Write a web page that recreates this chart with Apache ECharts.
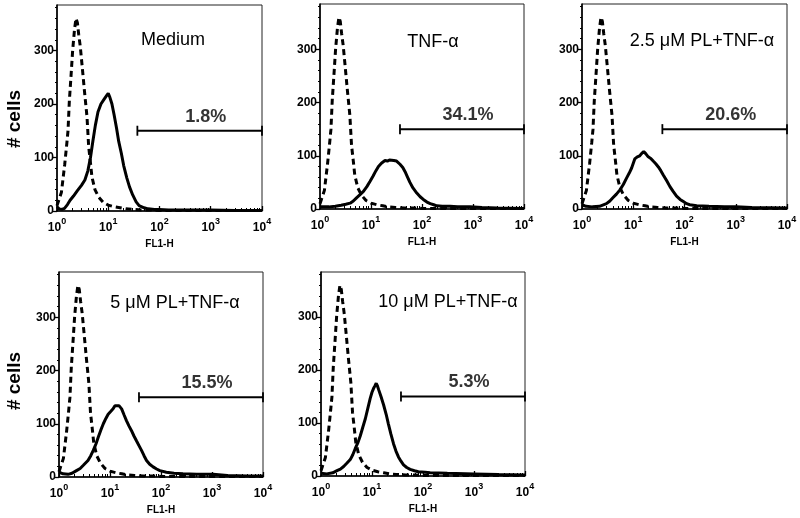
<!DOCTYPE html>
<html><head><meta charset="utf-8">
<script src="https://cdn.jsdelivr.net/npm/echarts@6/dist/echarts.min.js"></script>
<style>html,body{margin:0;padding:0;background:#fff}#c{width:800px;height:518px}</style>
</head><body><div id="c"></div>
<script>
// ---- data ----
const panelTitles = ['Medium', 'TNF-\u03b1', '2.5 \u03bcM PL+TNF-\u03b1', '5 \u03bcM PL+TNF-\u03b1', '10 \u03bcM PL+TNF-\u03b1'];
const gatePercents = ['1.8%', '34.1%', '20.6%', '15.5%', '5.3%'];
const gateRange = [37, 10000];
const gateLevel = 150;
const xTickValues = [1, 10, 100, 1000, 10000];
const xMinorTicks = [2,3,4,5,6,7,8,9,20,30,40,50,60,70,80,90,200,300,400,500,600,700,800,900,2000,3000,4000,5000,6000,7000,8000,9000];
const yTickValues = [0, 100, 200, 300];
const yMinorTicks = [20,40,60,80,120,140,160,180,220,240,260,280,320,340,360,380];
const yMax = 385;

// isotype control (dashed), same in every panel
const control = [[1.0,10],[1.1,22],[1.22,35],[1.41,86],[1.55,125],[1.64,150],[1.74,205],[1.9,260],[2.02,300],[2.2,340],
  [2.35,360],[2.5,352],[2.65,330],[2.85,307],[3.1,270],[3.45,222],[3.85,176],[4.15,120],[4.5,90],[4.8,64],
  [5.5,40],[6.5,26],[8,16],[10,11],[13,8],[17,6],[22,4],[30,3],[45,2],[70,2],[100,1],[200,1],[500,1],[1000,1],[3000,1],[10000,1]];

const medium = [[1.0,8],[1.1,4],[1.25,3],[1.4,5],[1.6,12],[1.8,20],[2.1,28],[2.5,38],[3.0,48],[3.5,58],[4.0,75],[4.5,100],
  [5.0,130],[5.6,160],[6.3,185],[7.2,200],[8.2,208],[9.2,215],[10,220],[10.8,212],[11.8,200],[13,180],[14.5,155],[16,130],
  [18,108],[20,85],[23,62],[26,45],[30,30],[35,17],[40,10],[50,6],[60,4],[80,3],[100,3],[150,2],[300,2],[1000,2],[3000,1],[10000,1]];

const tnf = [[1.0,4],[1.5,4],[2,5],[2.6,7],[3.2,9],[3.9,11],[4.5,15],[5.2,21],[6.1,27],[7.1,33],[8.3,42],[9.6,52],[11,62],
  [12.5,72],[14,80],[16,86],[18.8,91],[21,90],[23,92],[25,90],[28,91],[31.7,90],[34,88],[37,84],[42,78],[46.6,70],[52,60],
  [58,50],[66,40],[79,30],[92,23],[106,18],[125,13],[145,10],[170,8],[194,6],[250,5],[355,5],[500,4],[870,4],[1500,3],[3000,2],[10000,1]];

const pl25 = [[1.0,8],[1.2,5],[1.6,4],[2.2,5],[3.0,10],[3.5,15],[4.0,21],[4.7,28],[5.5,36],[6.4,46],[7.4,58],[8.4,68],[9.3,77],
  [10.7,94],[12,98],[13.4,100],[14.5,104],[16,108],[17.5,104],[19.6,98],[22,95],[24.5,90],[27.5,85],[30.9,79],[34.5,72],[38.5,64],
  [45,53],[52,42],[60,33],[70,24],[82,18],[95,14],[110,10],[127,8],[173,6],[300,5],[600,4],[1000,4],[2000,3],[10000,2]];

const pl5 = [[1.0,9],[1.2,6],[1.5,5],[1.8,7],[2.2,12],[2.6,16],[3.0,22],[3.7,31],[4.2,40],[4.7,50],[5.3,62],[5.9,75],[6.6,88],
  [7.4,100],[8.3,110],[9.2,118],[10.3,123],[11.5,128],[12.5,134],[13.5,137],[15,134],[16.9,128],[19,116],[21,106],[23.5,96],
  [26.4,87],[29.5,77],[33,68],[37,59],[41.5,50],[46.5,40],[52,31],[60,24],[70,19],[82,15],[95,12],[127,9],[180,7],[270,6],
  [500,5],[1050,5],[2000,3],[5000,2],[10000,2]];

const pl10 = [[1.0,5],[1.3,4],[1.7,6],[2.06,10],[2.4,13],[2.78,18],[3.2,24],[3.75,31],[4.2,40],[4.7,52],[5.3,63],[5.9,76],
  [6.6,92],[7.4,108],[8.3,128],[9.2,146],[10,158],[10.7,165],[11.4,170],[12.1,175],[12.8,170],[13.5,163],[15,150],[16.9,134],
  [19,116],[21,98],[23.5,79],[26.4,61],[29.5,47],[33,36],[37,28],[41.5,21],[48,16],[56,12.5],[68,10],[81,8],[110,7],[138,6],
  [300,5],[1000,4],[3000,3],[10000,2]];

const samples = [medium, tnf, pl25, pl5, pl10];

// ---- layout ----
const grids = [
  {left: 57, top: 5, width: 205, height: 206},
  {left: 320, top: 4, width: 204, height: 205},
  {left: 582, top: 4, width: 205, height: 205},
  {left: 59, top: 272, width: 204, height: 205},
  {left: 321, top: 272, width: 204, height: 204}
];
const titlePos = [[173, 40], [433, 42], [702, 41], [175, 303], [448, 302]];
const FONT = '"Liberation Sans", Arial, sans-serif';

const option = {
  animation: false,
  backgroundColor: '#fff',
  grid: grids.map(g => Object.assign({show: true, borderColor: '#222', borderWidth: 1, backgroundColor: 'transparent'}, g)),
  xAxis: [], yAxis: [], series: [],
  graphic: []
};

const gateMid = Math.sqrt(gateRange[0] * gateRange[1]);

grids.forEach((g, i) => {
  option.xAxis.push({
    gridIndex: i, type: 'log', logBase: 10, min: 1, max: 10000, position: 'bottom',
    axisLine: {show: true, lineStyle: {color: '#000', width: 1.6}},
    axisTick: {show: true, inside: true, length: 5, lineStyle: {color: '#000', width: 1.3}, customValues: xTickValues},
    axisLabel: {
      customValues: xTickValues, margin: 6, color: '#000',
      formatter: v => '{b|10}{s|' + Math.round(Math.log10(v)) + '}',
      rich: {
        b: {fontSize: 12, fontWeight: 'bold', fontFamily: FONT, color: '#000', lineHeight: 17, verticalAlign: 'bottom'},
        s: {fontSize: 9, fontWeight: 'bold', fontFamily: FONT, color: '#000', lineHeight: 17, verticalAlign: 'top'}
      }
    },
    splitLine: {show: false},
    name: 'FL1-H', nameLocation: 'middle', nameGap: 28,
    nameTextStyle: {fontSize: 10, fontWeight: 'bold', fontFamily: FONT, color: '#000'}
  });
  option.xAxis.push({
    gridIndex: i, type: 'log', logBase: 10, min: 1, max: 10000, position: 'bottom',
    axisLine: {show: false},
    axisTick: {show: true, inside: true, length: 3, lineStyle: {color: '#000', width: 1}, customValues: xMinorTicks},
    axisLabel: {show: false}, splitLine: {show: false}
  });
  option.yAxis.push({
    gridIndex: i, type: 'value', min: 0, max: yMax, position: 'left',
    axisLine: {show: true, lineStyle: {color: '#000', width: 1.6}},
    axisTick: {show: true, length: 4, lineStyle: {color: '#000', width: 1.3}, customValues: yTickValues},
    axisLabel: {customValues: yTickValues, margin: 3, fontSize: 12, fontWeight: 'bold', fontFamily: FONT, color: '#000'},
    splitLine: {show: false}
  });
  option.yAxis.push({
    gridIndex: i, type: 'value', min: 0, max: yMax, position: 'left',
    axisLine: {show: false},
    axisTick: {show: true, length: 2, lineStyle: {color: '#000', width: 1}, customValues: yMinorTicks},
    axisLabel: {show: false}, splitLine: {show: false}
  });
  const xi = 2 * i, yi = 2 * i;
  option.series.push({
    type: 'line', xAxisIndex: xi, yAxisIndex: yi, data: control, showSymbol: false, symbol: 'none',
    lineStyle: {color: '#000', width: 3, type: [6, 4]}, z: 3
  });
  option.series.push({
    type: 'line', xAxisIndex: xi, yAxisIndex: yi, data: samples[i], showSymbol: false, symbol: 'none',
    lineStyle: {color: '#000', width: 3}, z: 4
  });
  option.series.push({
    type: 'line', xAxisIndex: xi, yAxisIndex: yi,
    data: [[gateRange[0], gateLevel], [gateRange[1], gateLevel]],
    symbol: 'rect', symbolSize: [1.8, 10], showSymbol: true, showAllSymbol: true,
    itemStyle: {color: '#000'}, lineStyle: {color: '#000', width: 2}, z: 5
  });
  option.series.push({
    type: 'scatter', xAxisIndex: xi, yAxisIndex: yi, data: [[gateMid, gateLevel]],
    symbolSize: 0, itemStyle: {color: 'transparent'},
    label: {show: true, position: 'top', distance: 5, offset: [6, 0], formatter: gatePercents[i],
      fontSize: 18, fontWeight: 'bold', fontFamily: FONT, color: '#000'}, z: 6
  });
  option.graphic.push({
    type: 'text', x: titlePos[i][0], y: titlePos[i][1],
    style: {text: panelTitles[i], font: '18px ' + FONT, fill: '#000', textAlign: 'center', textVerticalAlign: 'middle'}
  });
});

option.graphic.push({type: 'text', x: 15, y: 119, rotation: Math.PI / 2,
  style: {text: '# cells', font: 'bold 19px ' + FONT, fill: '#000', textAlign: 'center', textVerticalAlign: 'middle'}});
option.graphic.push({type: 'text', x: 15, y: 381, rotation: Math.PI / 2,
  style: {text: '# cells', font: 'bold 19px ' + FONT, fill: '#000', textAlign: 'center', textVerticalAlign: 'middle'}});

const chart = echarts.init(document.getElementById('c'), null, {renderer: 'canvas'});
chart.setOption(option);
</script>
</body></html>
